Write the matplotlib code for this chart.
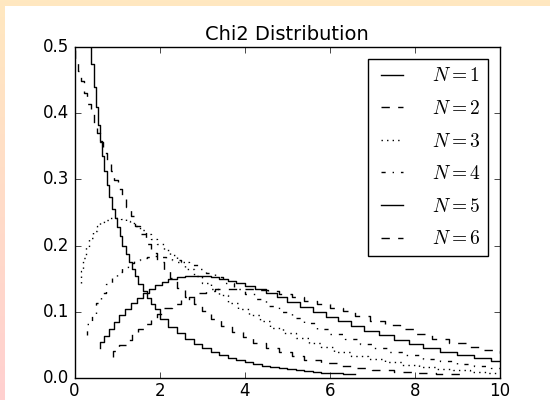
import numpy as np
import matplotlib
matplotlib.use("Agg")
import matplotlib.pyplot as plt
from matplotlib.patches import Rectangle

plt.style.use('classic')

title = "Chi2 Distribution"
labels = ["$N=1$", "$N=2$", "$N=3$", "$N=4$", "$N=5$", "$N=6$"]
xticks = [0, 2, 4, 6, 8, 10]
yticks = [0.0, 0.1, 0.2, 0.3, 0.4, 0.5]

x1 = [0.04, 0.12, 0.2, 0.28, 0.35, 0.39, 0.45, 0.5, 0.55, 0.6, 0.65, 0.7, 0.76, 0.82, 0.88, 0.95,
      1.0, 1.06, 1.12, 1.2, 1.27, 1.35, 1.42, 1.5, 1.6, 1.7, 1.8, 1.9, 2.0, 2.2, 2.4, 2.6, 2.8,
      3.0, 3.2, 3.4, 3.6, 3.8, 4.0, 4.2, 4.4, 4.6, 4.8, 5.0, 5.2, 5.4, 5.6, 5.8, 6.0, 6.3, 6.6]
y1 = [1.955, 1.085, 0.807, 0.656, 0.566, 0.526, 0.475, 0.439, 0.409, 0.382, 0.358, 0.336, 0.313,
      0.292, 0.274, 0.255, 0.242, 0.228, 0.215, 0.200, 0.188, 0.175, 0.165, 0.154, 0.142, 0.131,
      0.121, 0.112, 0.104, 0.0895, 0.0776, 0.0674, 0.0588, 0.0514, 0.0450, 0.0395, 0.0348, 0.0306,
      0.0270, 0.0238, 0.0211, 0.0187, 0.0165, 0.0146, 0.0130, 0.0115, 0.0102, 0.0091, 0.0081,
      0.0068, 0.0057]

x2 = [0.02, 0.08, 0.15, 0.22, 0.3, 0.38, 0.45, 0.53, 0.6, 0.68, 0.77, 0.85, 0.94, 1.03, 1.12, 1.22,
      1.32, 1.43, 1.55, 1.67, 1.8, 1.95, 2.1, 2.25, 2.4, 2.6, 2.8, 3.0, 3.2, 3.45, 3.7, 3.95, 4.2,
      4.5, 4.8, 5.1, 5.4, 5.8, 6.2, 6.6, 7.0, 7.5, 8.0, 8.5, 9.1]
y2 = [0.495, 0.480, 0.464, 0.448, 0.430, 0.414, 0.399, 0.384, 0.370, 0.356, 0.340, 0.327, 0.313,
      0.299, 0.286, 0.272, 0.259, 0.245, 0.230, 0.217, 0.203, 0.189, 0.175, 0.162, 0.151, 0.136,
      0.123, 0.112, 0.101, 0.0891, 0.0786, 0.0694, 0.0612, 0.0527, 0.0454, 0.0390, 0.0336, 0.0275,
      0.0225, 0.0184, 0.0151, 0.0118, 0.0092, 0.0071, 0.0053]

x3 = [0.15, 0.2, 0.27, 0.35, 0.43, 0.52, 0.6, 0.7, 0.8, 0.9, 1.0, 1.1, 1.2, 1.3, 1.42, 1.55, 1.68,
      1.8, 1.95, 2.1, 2.25, 2.4, 2.6, 2.8, 3.0, 3.2, 3.4, 3.6, 3.85, 4.1, 4.35, 4.6, 4.9, 5.2, 5.5,
      5.8, 6.1, 6.5, 6.9, 7.3, 7.7, 8.1, 8.5, 8.9, 9.3, 9.7, 10.2]
y3 = [0.143, 0.161, 0.181, 0.198, 0.211, 0.222, 0.229, 0.235, 0.239, 0.241, 0.242, 0.241, 0.240,
      0.237, 0.234, 0.229, 0.223, 0.218, 0.210, 0.202, 0.194, 0.186, 0.175, 0.165, 0.154, 0.144,
      0.134, 0.125, 0.114, 0.104, 0.0945, 0.0858, 0.0762, 0.0676, 0.0598, 0.0528, 0.0467, 0.0395,
      0.0333, 0.0280, 0.0236, 0.0198, 0.0166, 0.0139, 0.0116, 0.0097, 0.0078]

x4 = [0.3, 0.4, 0.5, 0.62, 0.75, 0.88, 1.0, 1.12, 1.25, 1.4, 1.55, 1.7, 1.85, 2.0, 2.15, 2.3, 2.5,
      2.7, 2.9, 3.1, 3.3, 3.5, 3.75, 4.0, 4.25, 4.5, 4.8, 5.1, 5.4, 5.7, 6.0, 6.35, 6.7, 7.05, 7.4,
      7.8, 8.2, 8.6, 9.0, 9.4, 9.8, 10.2]
y4 = [0.0646, 0.0819, 0.0974, 0.114, 0.129, 0.142, 0.152, 0.160, 0.167, 0.174, 0.179, 0.182, 0.183,
      0.184, 0.183, 0.182, 0.179, 0.175, 0.170, 0.165, 0.158, 0.152, 0.144, 0.135, 0.127, 0.119,
      0.109, 0.0996, 0.0907, 0.0824, 0.0747, 0.0664, 0.0588, 0.0520, 0.0457, 0.0394, 0.0340,
      0.0292, 0.0250, 0.0214, 0.0183, 0.0156]

x5 = [0.6, 0.7, 0.8, 0.92, 1.05, 1.18, 1.32, 1.46, 1.6, 1.75, 1.9, 2.05, 2.2, 2.4, 2.6, 2.8, 3.0,
      3.2, 3.4, 3.6, 3.8, 4.0, 4.25, 4.5, 4.75, 5.0, 5.3, 5.6, 5.9, 6.2, 6.5, 6.8, 7.15, 7.5, 7.85,
      8.2, 8.6, 9.0, 9.4, 9.8, 10.2]
y5 = [0.0458, 0.0549, 0.0638, 0.0741, 0.0846, 0.0945, 0.104, 0.113, 0.121, 0.128, 0.135, 0.140,
      0.145, 0.149, 0.152, 0.154, 0.154, 0.154, 0.152, 0.150, 0.147, 0.144, 0.139, 0.134, 0.128,
      0.122, 0.115, 0.107, 0.0997, 0.0924, 0.0855, 0.0788, 0.0712, 0.0642, 0.0576, 0.0518, 0.0456,
      0.0399, 0.0349, 0.0304, 0.0264]

x6 = [0.9, 1.05, 1.2, 1.35, 1.5, 1.65, 1.8, 1.95, 2.1, 2.3, 2.5, 2.7, 2.9, 3.1, 3.3, 3.55, 3.8, 4.05,
      4.3, 4.55, 4.8, 5.1, 5.4, 5.7, 6.0, 6.3, 6.6, 6.95, 7.3, 7.65, 8.0, 8.4, 8.8, 9.2, 9.6, 10.0,
      10.3]
y6 = [0.0323, 0.0408, 0.0494, 0.0580, 0.0664, 0.0746, 0.0823, 0.0896, 0.0964, 0.105, 0.112, 0.118,
      0.123, 0.128, 0.131, 0.134, 0.135, 0.135, 0.135, 0.133, 0.131, 0.127, 0.123, 0.117, 0.112,
      0.106, 0.101, 0.0936, 0.0866, 0.0797, 0.0733, 0.0661, 0.0594, 0.0532, 0.0474, 0.0421, 0.0385]

series = [(x1, y1), (x2, y2), (x3, y3), (x4, y4), (x5, y5), (x6, y6)]
styles = ['-', '--', ':', '-.', '-', '--']

fig = plt.figure(figsize=(5.5, 4.0), dpi=100, facecolor='white')

# page background gradient (top/left border)
bg = fig.add_axes([0, 0, 1, 1], zorder=-5)
grad = np.linspace(0, 1, 256)[:, None]
top_c = np.array([255, 232, 192]) / 255.0
bot_c = np.array([255, 208, 208]) / 255.0
img = top_c[None, None, :] * (1 - grad[:, :, None]) + bot_c[None, None, :] * grad[:, :, None]
bg.imshow(img, aspect='auto', extent=[0, 1, 0, 1], origin='upper', interpolation='bilinear')
bg.add_patch(Rectangle((5 / 550, 0), 1, 1 - 6 / 400, facecolor='white', edgecolor='none'))
bg.set_xlim(0, 1)
bg.set_ylim(0, 1)
bg.axis('off')

ax = fig.add_axes([74.5 / 550, 1 - 378 / 400, (500 - 74.5) / 550, (378 - 47) / 400])
ax.set_facecolor('white')
for (xs, ys), ls, lab in zip(series, styles, labels):
    ax.plot(xs, ys, ls=ls, color='k', lw=1.0, drawstyle='steps', label=lab)

ax.set_xlim(0, 10)
ax.set_ylim(0, 0.5)
ax.set_xticks(xticks)
ax.set_yticks(yticks)
ax.set_title(title, fontsize=14)
ax.tick_params(labelsize=12)
ax.tick_params(axis='x', pad=3)
ax.legend(loc='upper right', fontsize=14, frameon=True, fancybox=False,
          handlelength=1.7, handletextpad=1.2, labelspacing=0.7, borderaxespad=0.6)

fig.savefig('out.png', dpi=100)
